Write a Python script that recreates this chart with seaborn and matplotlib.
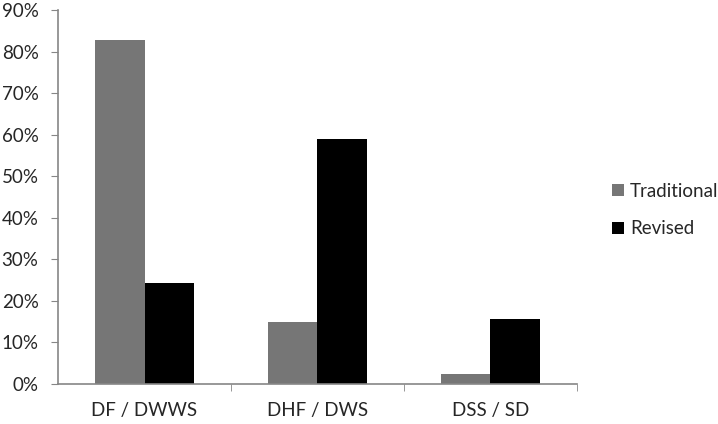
import matplotlib
matplotlib.use('Agg')
import seaborn as sns
import matplotlib.pyplot as plt
import pandas as pd
from matplotlib.ticker import PercentFormatter, FixedLocator

sns.set_style("white")
plt.rcParams['font.family'] = ['Lato', 'DejaVu Sans']

categories = ["DF / DWWS", "DHF / DWS", "DSS / SD"]
traditional = [82.8, 15.0, 2.4]
revised = [24.4, 59.0, 15.6]
series = ["Traditional", "Revised"]

data = pd.DataFrame({
    "Category": categories * 2,
    "Value": traditional + revised,
    "Series": [series[0]] * 3 + [series[1]] * 3,
})

fig = plt.figure(figsize=(7.18, 4.24), dpi=100)
ax = fig.add_axes([0.0808, 0.0943, 0.7228, 0.8821])

sns.barplot(data=data, x="Category", y="Value", hue="Series",
            palette=["#767676", "#000000"], width=0.57, gap=0,
            saturation=1, ax=ax, linewidth=0)

axis_col = "#868686"
ax.set_ylim(0, 90)
ax.set_xlim(-0.5, 2.5)
ax.yaxis.set_major_locator(FixedLocator(range(0, 91, 10)))
ax.yaxis.set_major_formatter(PercentFormatter(decimals=0))
ax.set_xlabel("")
ax.set_ylabel("")

for s in ["top", "right"]:
    ax.spines[s].set_visible(False)
for s in ["left", "bottom"]:
    ax.spines[s].set_color(axis_col)
    ax.spines[s].set_linewidth(1.2)

ax.tick_params(axis="y", which="major", direction="out", length=5,
               color=axis_col, labelsize=13.5, pad=9, left=True)
ax.tick_params(axis="x", which="major", length=0, labelsize=13.5, pad=13)
ax.xaxis.set_minor_locator(FixedLocator([0.5, 1.5, 2.5]))
ax.tick_params(axis="x", which="minor", direction="out", length=5,
               color=axis_col, bottom=True)

ax.legend(loc="center left", bbox_to_anchor=(1.035, 0.465), frameon=False,
          fontsize=13.5, handlelength=0.65, handleheight=0.65,
          handletextpad=0.3, labelspacing=1.1)

plt.savefig("out.png", dpi=100)
